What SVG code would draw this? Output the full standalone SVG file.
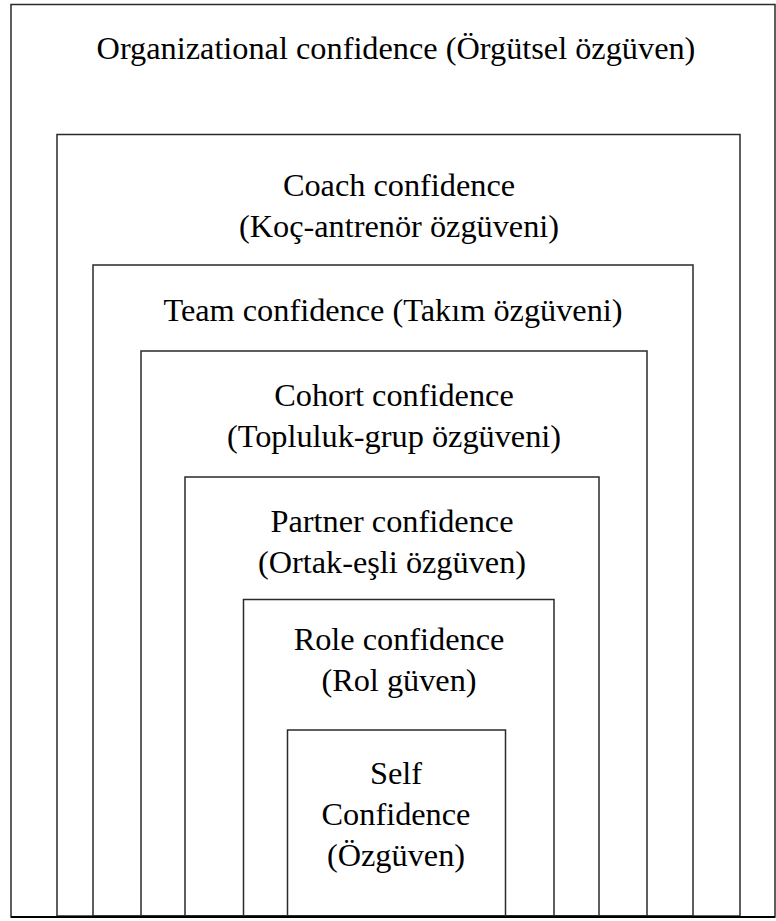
<svg xmlns="http://www.w3.org/2000/svg" width="776" height="921" viewBox="0 0 776 921">
  <style>
    .box { fill: none; stroke: #2a2a2a; stroke-width: 1.5; }
    .lbl { font-family: "Liberation Serif", "Times New Roman", serif; font-size: 32.3px; fill: #000; text-anchor: middle; }
  </style>
  <rect width="776" height="921" fill="#fff"/>

  <g id="organizational">
    <rect class="box" x="11" y="4.5" width="764" height="912.5"/>
    <text class="lbl" x="396" y="59">Organizational confidence (Örgütsel özgüven)</text>
  </g>

  <g id="coach">
    <rect class="box" x="57" y="134.5" width="683" height="781.5"/>
    <text class="lbl" x="399" y="196">Coach confidence</text>
    <text class="lbl" x="399" y="237">(Koç-antrenör özgüveni)</text>
  </g>

  <g id="team">
    <rect class="box" x="93" y="265" width="600" height="651"/>
    <text class="lbl" x="393" y="321">Team confidence (Takım özgüveni)</text>
  </g>

  <g id="cohort">
    <rect class="box" x="141" y="351" width="506" height="565"/>
    <text class="lbl" x="394" y="406">Cohort confidence</text>
    <text class="lbl" x="394" y="447">(Topluluk-grup özgüveni)</text>
  </g>

  <g id="partner">
    <rect class="box" x="185" y="477" width="414" height="439"/>
    <text class="lbl" x="392" y="532">Partner confidence</text>
    <text class="lbl" x="392" y="573">(Ortak-eşli özgüven)</text>
  </g>

  <g id="role">
    <rect class="box" x="243.5" y="599.5" width="310.5" height="316.5"/>
    <text class="lbl" x="399" y="650">Role confidence</text>
    <text class="lbl" x="399" y="691">(Rol güven)</text>
  </g>

  <g id="self">
    <rect class="box" x="287.5" y="730" width="218" height="186"/>
    <text class="lbl" x="396" y="784">Self</text>
    <text class="lbl" x="396" y="825">Confidence</text>
    <text class="lbl" x="396" y="866">(Özgüven)</text>
  </g>

  <!-- heavier base line along the bottom -->
  <line x1="11" y1="917" x2="775" y2="917" stroke="#000" stroke-width="2"/>
</svg>
